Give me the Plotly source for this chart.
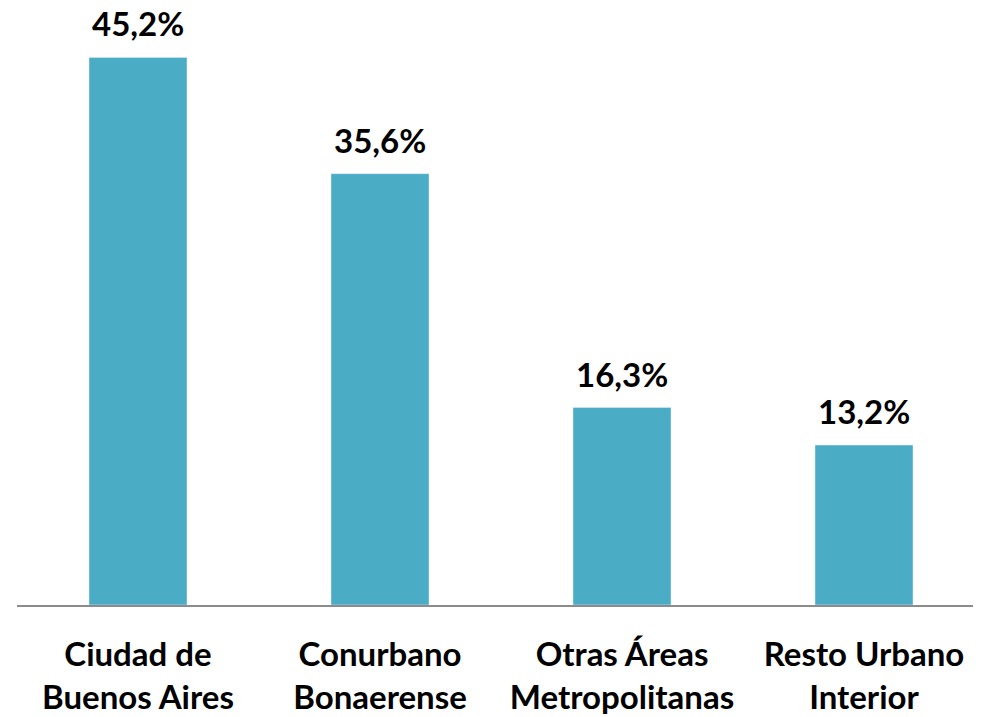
import plotly.graph_objects as go

categories = [
    "Ciudad de<br>Buenos Aires",
    "Conurbano<br>Bonaerense",
    "Otras Áreas<br>Metropolitanas",
    "Resto Urbano<br>Interior",
]
values = [45.2, 35.6, 16.3, 13.2]
labels = ["45,2%", "35,6%", "16,3%", "13,2%"]

FONT = {"family": "Lato", "size": 33, "color": "black", "weight": "bold"}

fig = go.Figure(
    go.Bar(
        x=categories,
        y=values,
        marker={"color": "#4BACC6"},
    )
)

for cat, val, lab in zip(categories, values, labels):
    fig.add_annotation(
        x=cat,
        y=val,
        text=lab,
        showarrow=False,
        yanchor="bottom",
        yshift=12,
        font=FONT,
    )

# the page body adds an 8px margin, so the margins are shifted by it
fig.update_layout(
    width=981,
    height=717,
    bargap=0.595,
    plot_bgcolor="white",
    paper_bgcolor="white",
    margin={"l": 9, "r": 4, "t": 30, "b": 120},
    font=FONT,
    showlegend=False,
)
fig.update_xaxes(
    showline=True,
    linecolor="#8c8c8c",
    linewidth=2,
    tickfont=FONT,
    ticks="",
    automargin=False,
    ticklabelstandoff=19,
)
fig.update_yaxes(range=[0, 46.8], visible=False, automargin=False)

fig.write_html("out.html")
